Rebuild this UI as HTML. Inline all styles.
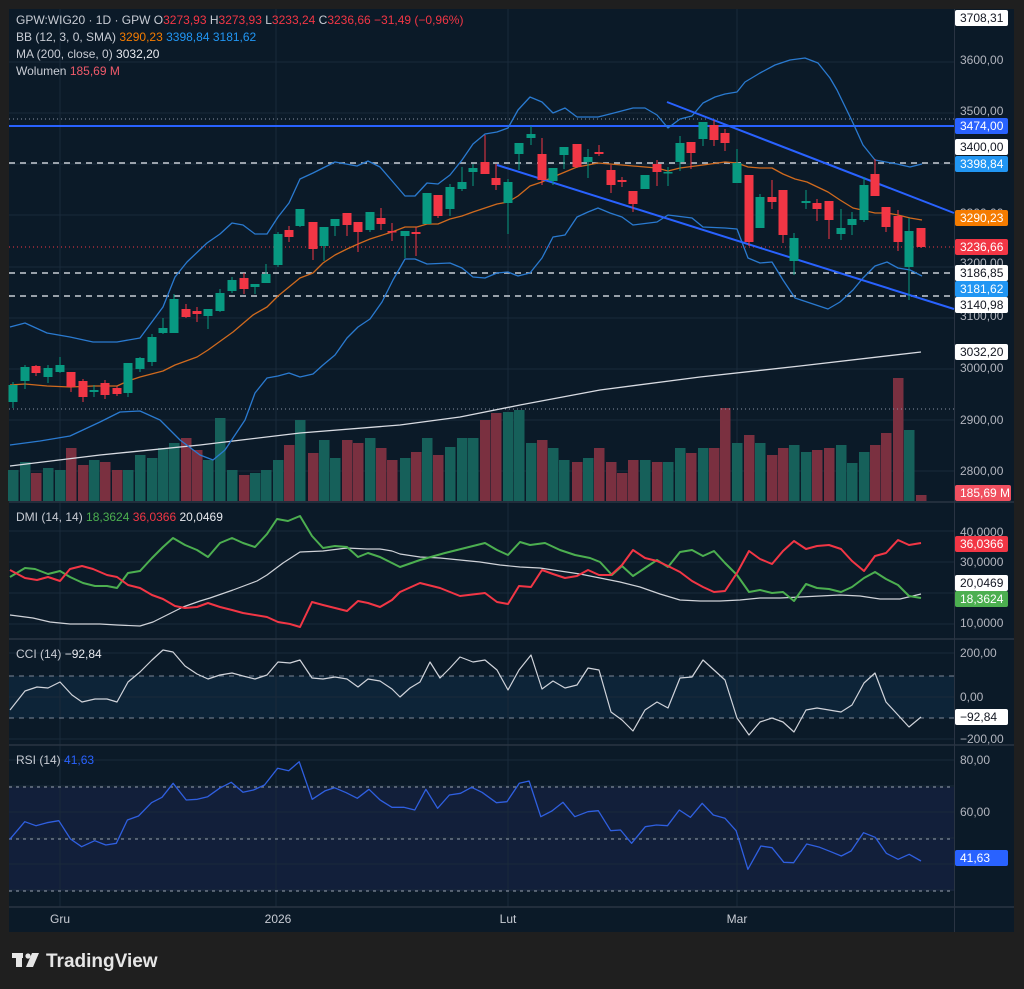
<!DOCTYPE html>
<html><head><meta charset="utf-8">
<style>
html,body{margin:0;padding:0;background:#1f1f1f;}
body{width:1024px;height:989px;overflow:hidden;position:relative;font-family:"Liberation Sans",sans-serif;}
svg{position:absolute;left:0;top:0;}
</style></head>
<body>
<svg id="c" width="1024" height="989" xmlns="http://www.w3.org/2000/svg" font-family="Liberation Sans, sans-serif"></svg>
<script>
const S=document.getElementById('c');let h='';
const BG='#0b1a28',GR='#1a2a3a',SEP='#2a3443';
h+=`<rect x="9" y="9" width="1005" height="923" fill="${BG}"/>`;
h+=`<rect x="9" y="787" width="945" height="104" fill="#121f3a"/>`;
h+=`<rect x="9" y="676" width="945" height="42" fill="#0d2438"/>`;
const hg=[62,113,164,215,267,318,369,420,471,531,562,593,624,653,697,739,760,786,812,838,864,890];
hg.forEach(y=>h+=`<line x1="9" x2="954" y1="${y}" y2="${y}" stroke="${GR}" stroke-width="1"/>`);
[60,276,508,737].forEach(x=>h+=`<line x1="${x}" x2="${x}" y1="9" y2="907" stroke="${GR}" stroke-width="1"/>`);
[502,639,745,907].forEach(y=>h+=`<line x1="9" x2="1014" y1="${y}" y2="${y}" stroke="${SEP}" stroke-width="1.5"/>`);
h+=`<line x1="954.5" x2="954.5" y1="9" y2="932" stroke="${SEP}" stroke-width="1"/>`;
const pl=(pts,col,w,extra='')=>`<polyline fill="none" stroke="${col}" stroke-width="${w}" stroke-linejoin="round" ${extra} points="${pts.map(p=>p.join(',')).join(' ')}"/>`;
const C=[[13,385,402,382,408,'g'],[25,367,381,365,389,'g'],[36,366,373,365,376,'r'],[48,368,377,365,383,'g'],[60,365,372,357,373,'g'],[71,372,387,372,392,'r'],[83,381,397,379,402,'r'],[94,390,392,385,397,'g'],[105,383,395,380,399,'r'],[117,388,394,386,396,'r'],[128,363,393,363,397,'g'],[140,358,369,357,372,'g'],[152,337,362,334,366,'g'],[163,328,333,318,334,'g'],[174,299,333,294,333,'g'],[186,309,317,304,318,'r'],[197,311,314,307,322,'r'],[208,309,316,309,329,'g'],[220,293,311,289,312,'g'],[232,280,291,277,293,'g'],[244,278,289,273,294,'r'],[255,284,287,284,294,'g'],[266,274,283,264,283,'g'],[278,234,265,232,267,'g'],[289,230,237,226,242,'r'],[300,209,226,209,227,'g'],[313,222,249,222,260,'r'],[324,227,246,227,261,'g'],[335,219,226,219,236,'g'],[347,213,225,213,236,'r'],[358,222,232,222,252,'r'],[370,212,230,212,232,'g'],[381,218,224,208,230,'r'],[392,231,232,223,241,'r'],[405,231,236,231,258,'g'],[416,232,234,227,256,'r'],[427,193,224,193,224,'g'],[438,195,216,195,218,'r'],[450,187,209,184,216,'g'],[462,182,189,167,191,'g'],[473,168,172,164,186,'g'],[485,162,174,135,174,'r'],[496,178,185,164,190,'r'],[508,182,203,179,234,'g'],[519,143,154,143,170,'g'],[531,134,138,126,145,'g'],[542,154,180,138,185,'r'],[553,168,181,168,185,'g'],[564,147,155,147,169,'g'],[577,144,167,144,168,'r'],[588,157,162,149,178,'g'],[599,152,154,145,156,'r'],[611,170,185,165,193,'r'],[622,180,182,177,187,'r'],[633,191,204,191,212,'r'],[645,175,189,175,189,'g'],[657,164,172,160,186,'r'],[668,172,173,167,186,'g'],[680,143,162,136,171,'g'],[691,142,153,142,169,'r'],[703,122,139,122,146,'g'],[714,125,140,120,146,'r'],[725,133,143,129,151,'r'],[737,163,183,149,183,'g'],[749,175,242,175,246,'r'],[760,197,228,194,228,'g'],[772,197,202,180,209,'r'],[783,190,235,190,243,'r'],[794,238,261,233,275,'g'],[806,201,203,190,209,'g'],[817,203,209,199,221,'r'],[829,201,220,201,239,'r'],[841,228,234,209,240,'g'],[852,219,225,212,235,'g'],[864,185,220,177,222,'g'],[875,174,196,159,196,'r'],[886,207,227,207,232,'r'],[898,216,242,210,251,'r'],[909,231,267,218,300,'g'],[921,228,247,228,248,'r']];
const V=[470,462,473,468,470,448,465,460,462,470,470,455,458,448,443,438,450,460,418,470,475,473,470,460,445,420,453,440,458,440,443,438,448,460,458,452,438,455,447,438,438,420,413,412,410,443,440,448,460,462,458,448,462,473,460,460,462,462,448,453,448,448,408,443,435,443,455,448,445,452,450,448,445,463,452,445,433,378,430,495];
C.forEach((c,i)=>{const t=V[i];h+=`<rect x="${c[0]-5}" y="${t}" width="10.5" height="${501-t}" fill="${c[5]=='g'?'#16605a':'#7a3040'}"/>`;});
h+=`<line x1="9" x2="954" y1="119" y2="119" stroke="#8a93a3" stroke-width="1" stroke-dasharray="1,3"/>`;
h+=`<line x1="9" x2="954" y1="409" y2="409" stroke="#8a93a3" stroke-width="1" stroke-dasharray="1,3"/>`;
h+=`<line x1="9" x2="954" y1="247" y2="247" stroke="#f23645" stroke-width="1" stroke-dasharray="1,3"/>`;
[163,273,296].forEach(y=>h+=`<line x1="9" x2="954" y1="${y}" y2="${y}" stroke="#c8ccd4" stroke-width="1.5" stroke-dasharray="6,5"/>`);
h+=`<line x1="9" x2="954" y1="126" y2="126" stroke="#2962ff" stroke-width="2"/>`;
h+=pl([[10,466],[100,455],[200,445],[300,433],[400,425],[460,417],[520,405],[600,390],[700,377],[800,366],[921,352]],'#d8dbe2',1.3);
const up=[[10,327],[25,323],[47,333],[70,337],[93,342],[117,342],[140,338],[163,307],[175,277],[187,262],[207,243],[220,234],[232,223],[243,225],[255,234],[267,234],[278,217],[289,203],[300,179],[313,173],[335,162],[357,166],[368,161],[380,167],[393,182],[405,196],[415,196],[427,183],[438,184],[450,175],[462,160],[473,144],[485,134],[497,132],[508,128],[518,110],[530,97],[542,102],[553,113],[565,108],[577,117],[598,117],[610,114],[633,108],[645,108],[657,115],[668,128],[680,119],[692,116],[703,103],[715,97],[725,94],[737,92],[745,82],[760,73],[775,65],[790,60],[805,58],[818,63],[830,78],[837,90],[853,123],[863,145],[875,160],[897,164],[910,167],[922,164]];
const mid=[[10,385],[25,384],[47,386],[70,387],[93,386],[117,386],[128,381],[140,377],[163,371],[175,365],[197,357],[208,350],[233,332],[253,315],[267,307],[278,296],[289,287],[300,278],[313,273],[323,263],[335,255],[347,249],[358,244],[370,239],[392,232],[405,227],[417,227],[427,224],[438,224],[450,219],[462,216],[473,212],[485,208],[497,204],[508,202],[518,196],[530,186],[542,182],[553,177],[565,172],[577,167],[588,165],[598,163],[610,164],[622,165],[645,167],[657,168],[668,171],[680,168],[703,165],[725,162],[737,163],[748,167],[760,168],[772,168],[783,174],[795,179],[807,182],[828,192],[840,200],[853,208],[875,213],[887,213],[898,215],[910,218],[922,220]];
const lo=[[10,445],[40,441],[70,436],[100,422],[120,412],[140,411],[160,420],[180,440],[200,455],[213,460],[225,450],[235,435],[245,420],[255,393],[267,378],[278,376],[289,373],[300,377],[313,374],[323,365],[335,355],[347,338],[358,327],[370,319],[382,302],[393,280],[405,259],[415,259],[427,264],[450,263],[462,268],[473,277],[485,278],[497,273],[508,272],[518,276],[530,273],[542,258],[553,237],[565,235],[577,217],[588,212],[598,208],[610,213],[622,217],[633,225],[657,222],[668,215],[692,218],[703,227],[725,228],[737,229],[748,258],[760,263],[772,262],[783,280],[795,298],[807,302],[828,309],[840,302],[853,290],[863,278],[875,266],[887,262],[898,268],[910,270],[922,276]];
h+=pl(up,'#2a7ad0',1.3)+pl(lo,'#2a7ad0',1.3)+pl(mid,'#d06a1e',1.3);
h+=`<line x1="497" y1="165" x2="954" y2="309" stroke="#2962ff" stroke-width="2"/>`;
h+=`<line x1="667" y1="102" x2="954" y2="213" stroke="#2962ff" stroke-width="2"/>`;
C.forEach(c=>{const col=c[5]=='g'?'#089981':'#f23645';h+=`<line x1="${c[0]}" x2="${c[0]}" y1="${c[3]}" y2="${c[4]}" stroke="${col}" stroke-width="1"/><rect x="${c[0]-4.5}" y="${c[1]}" width="9" height="${Math.max(1.5,c[2]-c[1])}" fill="${col}"/>`;});
const dg=[[10,577],[25,568],[35,569],[48,574],[60,571],[70,577],[83,583],[95,586],[107,586],[117,588],[128,573],[140,571],[152,558],[163,547],[173,538],[185,545],[197,550],[208,557],[220,543],[232,538],[243,543],[255,547],[267,534],[277,519],[288,521],[300,516],[312,536],[323,548],[335,546],[347,547],[358,557],[368,553],[380,557],[392,563],[400,567],[420,560],[445,553],[465,548],[485,543],[497,550],[508,555],[520,542],[530,545],[545,543],[560,550],[575,555],[590,558],[600,562],[612,575],[622,566],[633,576],[645,568],[657,560],[668,567],[680,552],[692,550],[703,556],[714,551],[725,563],[737,575],[749,592],[760,590],[772,593],[783,592],[794,601],[806,584],[817,588],[829,589],[841,592],[852,587],[864,578],[875,572],[886,579],[898,585],[909,596],[921,598]];
const dr=[[10,570],[25,578],[37,580],[48,577],[60,581],[70,569],[82,566],[93,569],[107,575],[117,577],[128,585],[140,588],[152,595],[163,599],[175,606],[185,608],[197,607],[208,603],[220,607],[232,610],[243,613],[255,615],[267,617],[278,622],[290,624],[300,627],[312,602],[323,605],[335,608],[347,611],[358,601],[368,603],[380,607],[392,600],[400,592],[420,583],[440,588],[460,596],[485,593],[497,602],[508,604],[519,586],[531,587],[542,570],[553,574],[565,578],[577,576],[588,570],[599,575],[611,575],[622,565],[633,550],[645,558],[657,561],[668,566],[680,572],[692,581],[703,587],[714,592],[725,591],[737,573],[749,551],[760,559],[772,564],[783,551],[794,541],[806,549],[817,546],[829,545],[841,549],[852,561],[864,571],[875,556],[886,553],[898,540],[909,545],[921,543]];
const dw=[[10,615],[33,618],[50,622],[70,624],[100,624],[117,625],[140,626],[153,622],[167,615],[183,607],[200,601],[210,598],[233,590],[257,581],[267,575],[283,563],[300,552],[323,551],[347,548],[367,549],[380,549],[392,551],[400,554],[420,557],[440,558],[460,560],[480,562],[500,565],[520,567],[540,568],[560,571],[580,574],[600,578],[620,582],[640,587],[660,594],[680,600],[700,601],[720,601],[740,600],[760,598],[780,598],[800,597],[820,596],[840,595],[860,596],[880,599],[900,599],[921,594]];
h+=pl(dw,'#cfd2d8',1.2)+pl(dg,'#4caf50',2)+pl(dr,'#f23645',2);
[676,718].forEach(y=>h+=`<line x1="9" x2="954" y1="${y}" y2="${y}" stroke="#7d8696" stroke-width="1" stroke-dasharray="5,5"/>`);
const cc=[[10,710],[25,691],[37,687],[48,688],[60,682],[72,695],[82,702],[95,699],[107,699],[117,702],[128,682],[140,672],[152,660],[163,650],[173,652],[185,666],[197,674],[208,679],[220,675],[232,673],[243,676],[255,679],[267,675],[278,662],[290,663],[300,660],[312,678],[323,679],[335,677],[347,679],[358,687],[368,679],[380,681],[392,689],[400,697],[410,688],[420,682],[430,662],[440,678],[450,668],[460,657],[473,662],[485,660],[497,670],[508,690],[519,670],[531,655],[542,689],[553,681],[565,688],[577,685],[588,668],[599,670],[611,712],[622,720],[633,731],[645,710],[657,702],[668,708],[680,678],[692,677],[703,660],[714,670],[725,680],[737,718],[749,735],[760,722],[772,718],[783,722],[794,732],[806,710],[817,708],[829,710],[841,712],[852,705],[864,683],[875,673],[886,702],[898,715],[909,727],[921,717]];
h+=pl(cc,'#d0d3da',1.2);
[787,839,891].forEach(y=>h+=`<line x1="9" x2="954" y1="${y}" y2="${y}" stroke="#7d8696" stroke-width="1.3" stroke-dasharray="3,4"/>`);
const rr=[[15,298],[38,245],[55,257],[72,248],[90,242],[108,297],[125,320],[145,302],[162,315],[178,310],[195,240],[212,228],[232,188],[248,172],[265,130],[285,180],[302,178],[318,170],[336,145],[354,127],[372,157],[388,150],[405,135],[425,85],[442,92],[458,65],[478,178],[498,152],[512,143],[530,158],[547,175],[565,148],[582,180],[600,202],[618,202],[635,210],[652,148],[670,205],[688,165],[705,160],[722,142],[738,157],[760,188],[776,185],[795,130],[810,123],[828,230],[845,213],[862,187],[880,230],[900,215],[916,212],[935,272],[950,270],[967,310],[988,260],[1005,255],[1022,257],[1040,210],[1057,232],[1075,190],[1092,225],[1110,235],[1127,272],[1145,388],[1165,318],[1182,323],[1200,367],[1215,368],[1235,312],[1255,322],[1272,335],[1288,348],[1303,333],[1322,278],[1340,292],[1357,340],[1375,358],[1392,343],[1410,363]].map(p=>[(p[0]/1.531).toFixed(1),(740+p[1]/3).toFixed(1)]);
h+=pl(rr,'#2f5fe0',1.3);
const tx=(x,y,s,col,sz=12,anc='start',w='normal')=>`<text x="${x}" y="${y}" fill="${col}" font-size="${sz}" text-anchor="${anc}" font-weight="${w}">${s}</text>`;
const L='#c8ccd4',R='#f23645';
h+=`<text x="16" y="24" font-size="12" fill="${L}">GPW:WIG20 · 1D · GPW  O<tspan fill="${R}">3273,93</tspan>  H<tspan fill="${R}">3273,93</tspan>  L<tspan fill="${R}">3233,24</tspan>  C<tspan fill="${R}">3236,66</tspan> <tspan fill="${R}">−31,49 (−0,96%)</tspan></text>`;
h+=`<text x="16" y="41" font-size="12" fill="${L}">BB (12, 3, 0, SMA)  <tspan fill="#f57c00">3290,23</tspan>  <tspan fill="#2196f3">3398,84</tspan>  <tspan fill="#2196f3">3181,62</tspan></text>`;
h+=`<text x="16" y="58" font-size="12" fill="${L}">MA (200, close, 0)  <tspan fill="#e8eaef">3032,20</tspan></text>`;
h+=`<text x="16" y="75" font-size="12" fill="${L}">Wolumen  <tspan fill="#f05a6a">185,69 M</tspan></text>`;
h+=`<text x="16" y="521" font-size="12" fill="${L}">DMI (14, 14)  <tspan fill="#4caf50">18,3624</tspan>  <tspan fill="${R}">36,0366</tspan>  <tspan fill="#e8eaef">20,0469</tspan></text>`;
h+=`<text x="16" y="658" font-size="12" fill="${L}">CCI (14)  <tspan fill="#e8eaef">−92,84</tspan></text>`;
h+=`<text x="16" y="764" font-size="12" fill="${L}">RSI (14)  <tspan fill="#2962ff">41,63</tspan></text>`;
const al=(y,s)=>h+=tx(960,y+4,s,'#b2b5be',12);
const bx=(y,s,bg,fg)=>{h+=`<rect x="955" y="${y-8}" width="53" height="16" rx="2" fill="${bg}"/>`+tx(960,y+4,s,fg,12);};
al(60,'3600,00');al(111,'3500,00');al(213,'3300,00');al(263,'3200,00');al(316,'3100,00');al(368,'3000,00');al(420,'2900,00');al(471,'2800,00');
bx(18,'3708,31','#ffffff','#131722');bx(126,'3474,00','#2962ff','#fff');bx(147,'3400,00','#ffffff','#131722');bx(164,'3398,84','#2196f3','#fff');
bx(218,'3290,23','#f57c00','#fff');bx(247,'3236,66','#f23645','#fff');bx(273,'3186,85','#ffffff','#131722');bx(289,'3181,62','#2196f3','#fff');bx(305,'3140,98','#ffffff','#131722');bx(352,'3032,20','#ffffff','#131722');
h+=`<rect x="955" y="485" width="56" height="16" rx="2" fill="#f05060"/>`+tx(960,497,'185,69 M','#fff',12);
al(532,'40,0000');al(562,'30,0000');al(623,'10,0000');bx(544,'36,0366','#f23645','#fff');bx(583,'20,0469','#ffffff','#131722');bx(599,'18,3624','#4caf50','#fff');
al(653,'200,00');al(697,'0,00');al(739,'−200,00');bx(717,'−92,84','#ffffff','#131722');
al(760,'80,00');al(812,'60,00');bx(858,'41,63','#2962ff','#fff');
[[60,'Gru'],[278,'2026'],[508,'Lut'],[737,'Mar']].forEach(t=>h+=tx(t[0],923,t[1],'#c8ccd4',12,'middle'));
h+=`<rect x="12" y="953" width="11" height="5" fill="#e6e6e6"/><rect x="16" y="953" width="6" height="14" fill="#e6e6e6"/><circle cx="28" cy="956" r="2.6" fill="#e6e6e6"/><polygon points="32,953 39,953 33,967 26,967" fill="#e6e6e6"/>`;
h+=tx(46,967,'TradingView','#e6e6e6',19,'start','bold');
S.innerHTML=h;
</script>
</body></html>
